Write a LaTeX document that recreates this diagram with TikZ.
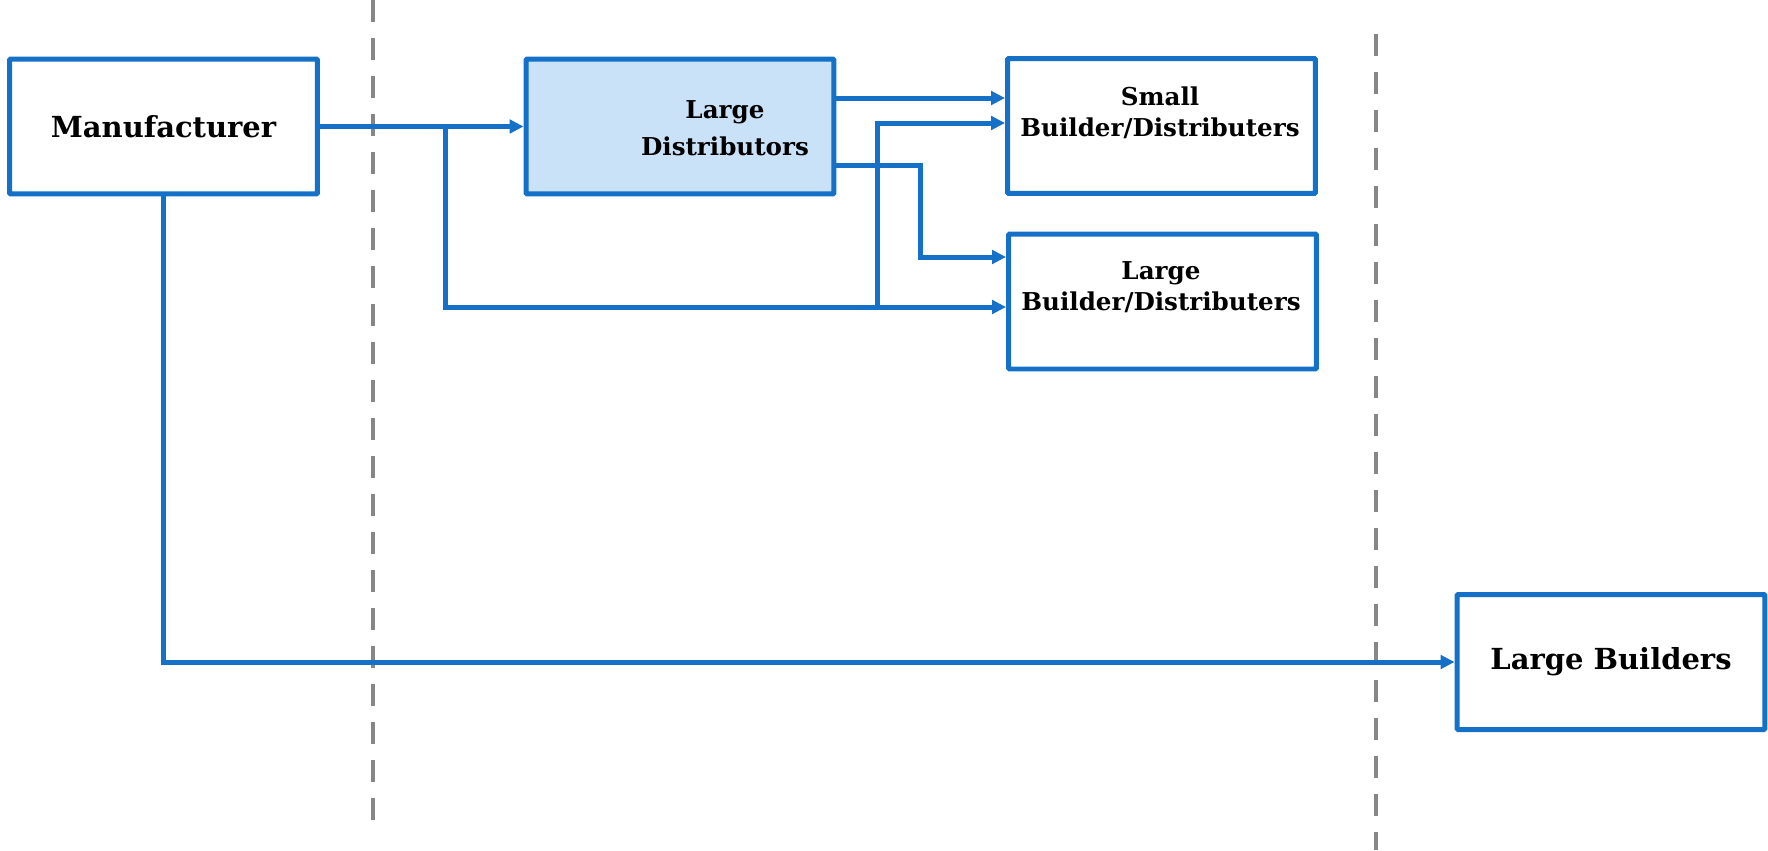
\documentclass[tikz,border=0pt]{standalone}
\usepackage{fontspec}
\setmainfont{DejaVu Serif}
\usetikzlibrary{arrows.meta}
\definecolor{flowblue}{HTML}{1570C8}
\definecolor{ldfill}{HTML}{C9E2F8}
\definecolor{divgrey}{HTML}{878787}

\begin{document}
\begin{tikzpicture}
    [
    x=0.02cm, y=-0.02cm,
    box/.style={draw=flowblue,line width=0.1cm,rounded corners=0.6pt,rectangle,inner sep=0pt,minimum width=6.16cm,minimum height=2.7cm,font=\fontsize{16.5}{20}\selectfont\bfseries},
    txt/.style={align=center,inner sep=0pt,font=\fontsize{14}{17.5}\selectfont\bfseries},
    flow/.style={draw=flowblue,line width=0.1cm,-{Triangle[length=0.28cm,width=0.27cm]}},
    divider/.style={draw=divgrey,line width=0.09cm,dash pattern=on 0.44cm off 0.32cm}
    ]
    \useasboundingbox (0,0) rectangle (1768,850);
    \draw [divider] (373,0) -- (373,823);
    \draw [divider] (1376,34) -- (1376,850);
    \node (man) at (163.5,126.5) [box] {Manufacturer};
    \node (ld) at (680,126.5) [box,fill=ldfill] {};
    \node (sbd) at (1161.5,126) [box] {};
    \node (lbd) at (1162.5,301.5) [box] {};
    \node (lb) at (1611,662) [box] {Large Builders};
    \node (ldtxt) at (725,128) [txt,font=\fontsize{14}{21}\selectfont\bfseries] {Large\\Distributors};
    \node (sbdtxt) at (1160,113) [txt] {Small\\Builder/Distributers};
    \node (lbdtxt) at (1161,287) [txt] {Large\\Builder/Distributers};
    \coordinate (split) at (445,126.5);
    \coordinate (low) at (445,307);
    \coordinate (up) at (877,307);
    \coordinate (upcorner) at (877,123);
    \coordinate (ldhi) at ([yshift=0.57cm]ld.east);
    \coordinate (ldlo) at ([yshift=-0.77cm]ld.east);
    \coordinate (bend) at (920,257);
    \draw [flow] (man.east) -- (ld.west);
    \draw [flow] (split) -- (low) -- (low -| lbd.west);
    \draw [flow] (up) -- (upcorner) -- (upcorner -| sbd.west);
    \draw [flow] (ldhi) -- (ldhi -| sbd.west);
    \draw [flow] (ldlo) -| (bend) -- (bend -| lbd.west);
    \draw [flow] (man.south) |- (lb.west);
\end{tikzpicture}
\end{document}
